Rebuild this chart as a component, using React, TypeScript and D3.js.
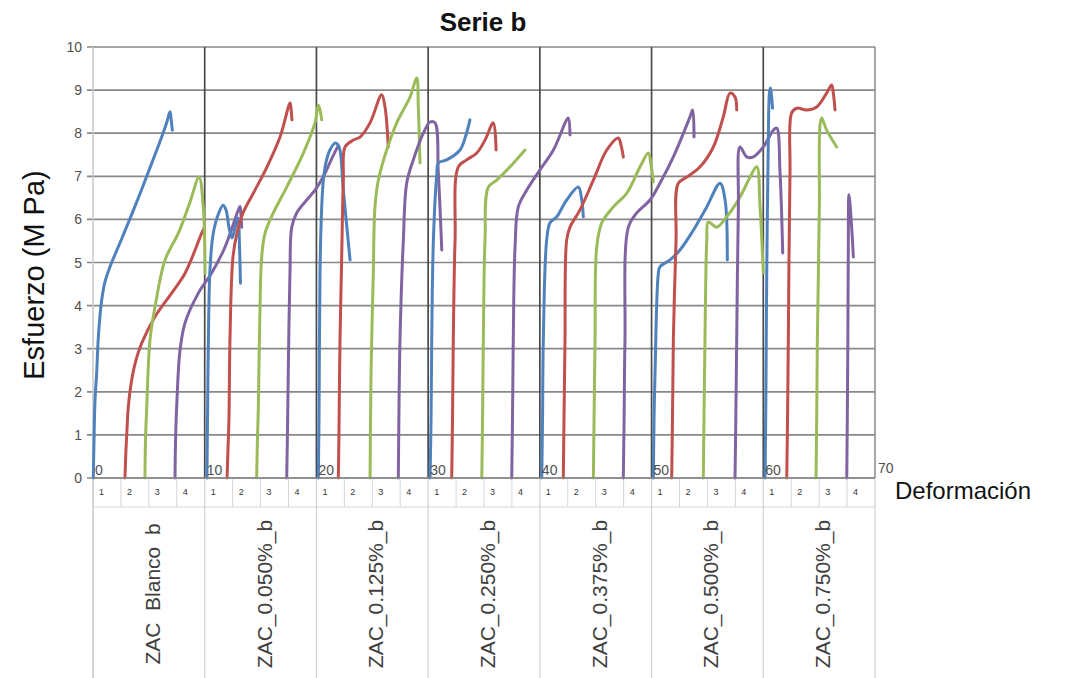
import React from 'react';
import * as d3 from 'd3';

type Pt = [number, number];

// Deformación (x) vs Esfuerzo MPa (y), four specimens per sample
const zacBlanco: Pt[][] = [
  [[0.03,0],[0.09,0.88],[0.18,1.81],[0.33,2.44],[0.49,3.32],[0.78,4.13],[1.07,4.55],[1.52,4.9],[2.57,5.55],[4.06,6.5],[5.25,7.3],[5.99,7.8],[6.6,8.25],[6.89,8.5],[6.98,8.35],[7.1,8.07]],
  [[2.86,0],[2.95,0.65],[3.04,1.11],[3.16,1.65],[3.46,2.27],[3.85,2.74],[4.36,3.13],[5.55,3.74],[7.04,4.29],[8.24,4.75],[9.73,5.68],[9.94,5.8]],
  [[4.65,0],[4.7,0.88],[4.81,1.65],[5.1,3.2],[5.55,3.97],[6.45,5.06],[7.64,5.68],[8.68,6.4],[9.49,6.98],[9.87,6.29],[10.03,4.75]],
  [[7.34,0],[7.39,0.88],[7.49,1.65],[7.79,2.97],[8.24,3.6],[9.43,4.29],[10.63,4.76],[11.82,5.36],[13.01,6.22],[13.16,6.3],[13.25,6.1],[13.31,5.82]],
];
const zac050: Pt[][] = [
  [[10.2,0],[10.25,1.35],[10.34,3.43],[10.47,4.83],[10.74,5.64],[11.19,6.1],[11.64,6.33],[11.91,6.22],[12.18,5.8],[12.44,5.57],[12.71,5.8],[12.98,6.03],[13.11,5.41],[13.2,4.52]],
  [[12.0,0],[12.08,0.65],[12.17,1.35],[12.26,3.2],[12.53,5.13],[12.89,5.68],[13.43,6.15],[14.5,6.68],[15.58,7.22],[16.74,7.91],[17.64,8.7],[17.72,8.58],[17.81,8.31]],
  [[14.65,0],[14.72,0.88],[14.8,1.65],[14.95,3.97],[15.1,5.13],[15.4,5.68],[16.14,6.15],[17.34,6.75],[18.83,7.54],[19.87,8.24],[20.17,8.65],[20.32,8.54],[20.47,8.31]],
  [[17.34,0],[17.41,1.11],[17.48,2.44],[17.63,4.76],[17.79,5.82],[18.23,6.15],[19.13,6.45],[19.87,6.68],[20.59,6.98],[21.48,7.47],[21.93,7.7]],
];
const zac125: Pt[][] = [
  [[20.17,0],[20.23,1.35],[20.32,4.76],[20.46,6.21],[20.62,6.91],[20.86,7.33],[21.21,7.61],[21.66,7.77],[21.93,7.73],[22.11,7.61],[22.41,6.68],[23.01,5.06]],
  [[21.96,0],[22.01,0.88],[22.11,3.2],[22.26,5.13],[22.41,6.91],[22.56,7.68],[23.3,7.84],[23.9,7.91],[24.8,8.24],[25.84,8.89],[26.14,8.61],[26.43,7.68]],
  [[24.8,0],[24.89,2.44],[25.09,4.76],[25.24,6.29],[25.54,6.91],[26.29,7.61],[27.19,8.24],[28.38,8.84],[28.98,9.28],[29.12,8.61],[29.27,7.31]],
  [[27.33,0],[27.38,1.35],[27.48,3.2],[27.78,5.52],[28.08,6.84],[28.67,7.38],[29.57,8.0],[30.17,8.26],[30.61,8.24],[30.91,7.08],[31.22,5.29]],
];
const zac250: Pt[][] = [
  [[30.17,0],[30.26,1.35],[30.32,3.2],[30.47,5.52],[30.77,7.03],[30.91,7.31],[31.66,7.38],[32.85,7.61],[33.39,7.96],[33.74,8.31]],
  [[32.11,0],[32.18,1.35],[32.25,3.2],[32.41,5.52],[32.7,7.22],[33.45,7.38],[34.35,7.54],[35.09,7.84],[35.83,8.24],[36.08,7.61]],
  [[34.8,0],[34.87,1.35],[34.94,3.2],[35.09,5.52],[35.39,6.75],[36.14,6.91],[37.33,7.22],[38.67,7.61]],
  [[37.48,0],[37.55,1.35],[37.62,3.2],[37.78,5.36],[38.07,6.29],[38.83,6.68],[40.01,7.15],[41.21,7.61],[42.4,8.31],[42.55,8.35],[42.7,7.96]],
];
const zac375: Pt[][] = [
  [[40.17,0],[40.24,1.35],[40.31,3.2],[40.61,5.52],[40.91,5.92],[41.51,6.06],[42.4,6.45],[43.44,6.75],[43.75,6.45],[43.89,6.06]],
  [[42.1,0],[42.16,1.35],[42.25,3.2],[42.4,5.52],[42.7,5.82],[43.59,6.22],[44.79,6.91],[45.99,7.61],[47.02,7.89],[47.26,7.73],[47.47,7.45]],
  [[44.79,0],[44.85,1.35],[44.94,3.2],[45.09,5.36],[45.54,5.92],[46.58,6.29],[47.78,6.61],[48.97,7.22],[49.71,7.54],[49.95,7.26],[50.16,6.87]],
  [[47.47,0],[47.54,1.35],[47.62,3.2],[47.92,5.82],[48.67,6.15],[49.86,6.45],[50.75,6.84],[51.95,7.45],[53.44,8.38],[53.68,8.54],[53.8,7.91]],
];
const zac500: Pt[][] = [
  [[50.16,0],[50.22,1.35],[50.31,2.44],[50.61,4.76],[50.75,4.9],[51.65,5.06],[52.54,5.29],[53.74,5.75],[54.94,6.29],[56.13,6.84],[56.58,6.45],[56.78,5.06]],
  [[51.8,0],[51.87,1.35],[51.95,3.2],[52.19,5.52],[52.39,6.84],[53.15,6.98],[54.34,7.22],[55.53,7.68],[56.42,8.38],[57.02,8.93],[57.47,8.84],[57.62,8.54]],
  [[54.63,0],[54.69,1.35],[54.78,3.2],[54.94,5.52],[55.08,5.94],[55.83,5.82],[56.73,6.06],[57.92,6.52],[58.81,6.98],[59.41,7.22],[59.71,6.29],[60.0,4.76]],
  [[57.47,0],[57.54,1.35],[57.62,3.2],[57.77,6.29],[57.92,7.68],[58.52,7.45],[59.11,7.45],[60.0,7.68],[60.9,8.07],[61.2,8.12],[61.5,7.08],[61.74,5.22]],
];
const zac750: Pt[][] = [
  [[60.16,0],[60.23,1.81],[60.31,4.76],[60.45,7.84],[60.56,8.96],[60.65,9.05],[60.74,8.86],[60.83,8.58]],
  [[62.1,0],[62.17,1.35],[62.24,3.2],[62.39,7.08],[62.54,8.47],[62.99,8.58],[63.88,8.54],[64.78,8.61],[65.67,8.93],[66.12,9.12],[66.27,8.93],[66.42,8.54]],
  [[64.72,0],[64.78,1.35],[64.84,3.2],[65.02,6.29],[65.08,8.19],[65.23,8.35],[65.67,8.07],[66.57,7.68]],
  [[67.47,0],[67.52,1.35],[67.57,3.2],[67.61,5.29],[67.67,6.57],[67.91,5.82],[68.06,5.13]],
];

const groups = [zacBlanco, zac050, zac125, zac250, zac375, zac500, zac750];
const groupLabels = ['ZAC  Blanco  b', 'ZAC_0.050%_b', 'ZAC_0.125%_b', 'ZAC_0.250%_b', 'ZAC_0.375%_b', 'ZAC_0.500%_b', 'ZAC_0.750%_b'];
const subLabels = ['1', '2', '3', '4'];
const specimenColors = ['#4F81BD', '#C0504D', '#9BBB59', '#8064A2'];
const yTicks = d3.range(0, 11);
const xTicks = d3.range(0, 80, 10);

const W = 1073, H = 678;
const left = 93, right = 875, top = 47, bottom = 478;
const font = '"Liberation Sans", Arial, sans-serif';

export default function App() {
  const x = d3.scaleLinear().domain([0, 70]).range([left, right]);
  const y = d3.scaleLinear().domain([0, 10]).range([bottom, top]);
  const line = d3.line<Pt>().x(d => x(d[0])).y(d => y(d[1])).curve(d3.curveCatmullRom.alpha(0.5));
  const groupW = x(10) - x(0);
  const subW = groupW / subLabels.length;
  const rowBottom = bottom + 29;

  return (
    <svg width={W} height={H} style={{position: 'absolute', left: 0, top: 0, background: '#fff'}} fontFamily={font}>
      <rect width={W} height={H} fill="#fff" />
      <text x={483} y={31} textAnchor="middle" fontSize={26} fontWeight="bold" fill="#111">Serie b</text>

      {/* horizontal grid + y ticks */}
      {yTicks.map(t => (
        <g key={'y' + t}>
          <line x1={left - 6} x2={right} y1={y(t)} y2={y(t)} stroke="#888" strokeWidth={1.7} />
          <text x={left - 11} y={y(t) + 5} textAnchor="end" fontSize={14} fill="#505050">{t}</text>
        </g>
      ))}

      {/* group boundaries */}
      <line x1={left} x2={left} y1={top} y2={H} stroke="#c8c8c8" strokeWidth={1.5} />
      {xTicks.slice(1, -1).map(t => (
        <line key={'v' + t} x1={x(t)} x2={x(t)} y1={top} y2={bottom} stroke="#4a4a4a" strokeWidth={1.7} />
      ))}
      <line x1={right} x2={right} y1={top} y2={bottom} stroke="#888" strokeWidth={1.5} />

      {/* category table below the axis */}
      <line x1={left} x2={right} y1={rowBottom} y2={rowBottom} stroke="#d6d6d6" strokeWidth={1} />
      {groups.map((_, gi) => (
        <g key={'g' + gi}>
          {subLabels.map((s, si) => (
            <g key={s}>
              {si > 0 && <line x1={x(gi * 10) + si * subW} x2={x(gi * 10) + si * subW} y1={bottom} y2={rowBottom} stroke="#d6d6d6" />}
              <text x={x(gi * 10) + si * subW + 6} y={bottom + 17} fontSize={9} fill="#333">{s}</text>
            </g>
          ))}
          <line x1={x(gi * 10 + 10)} x2={x(gi * 10 + 10)} y1={bottom} y2={H} stroke="#d0d0d0" strokeWidth={1.2} />
          <text transform={`translate(${x(gi * 10) + groupW / 2 + 11},${594}) rotate(-90)`} textAnchor="middle"
            fontSize={21} fill="#404040" style={{whiteSpace: 'pre'}}>{groupLabels[gi]}</text>
        </g>
      ))}

      {/* curves */}
      {groups.map((g, gi) => g.map((c, ci) => (
        <path key={gi + '-' + ci} d={line(c) || ''} fill="none" stroke={specimenColors[ci]} strokeWidth={3}
          strokeLinejoin="round" strokeLinecap="round" />
      )))}

      <line x1={left} x2={right} y1={bottom} y2={bottom} stroke="#888" strokeWidth={1.7} />

      {/* secondary deformation axis labels */}
      {xTicks.map(t => (
        <text key={'x' + t} x={t === 70 ? x(t) + 3 : x(t) + 2} y={t === 70 ? bottom - 5 : bottom - 3} fontSize={14} fill="#505050">{t}</text>
      ))}

      <text x={895} y={499} fontSize={24} fill="#111">Deformación</text>
      <text transform={`translate(44,${275}) rotate(-90)`} textAnchor="middle" fontSize={29} fill="#111">Esfuerzo (M Pa)</text>
    </svg>
  );
}
